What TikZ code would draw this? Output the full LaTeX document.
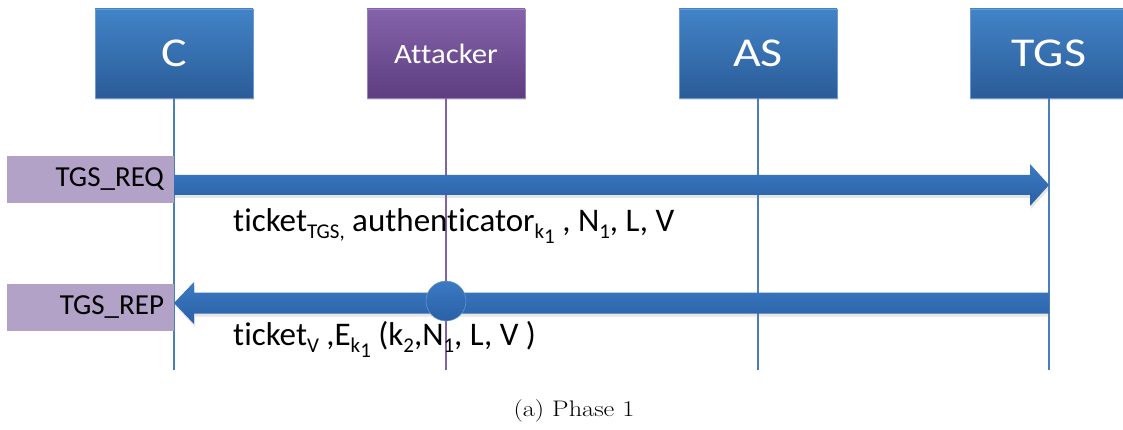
\documentclass[tikz,border=0pt]{standalone}
\usepackage{fontspec}
\usepackage{graphicx}
\usetikzlibrary{calc,shadows}
\newfontfamily\carl{Carlito}[Ligatures=NoCommon]
\definecolor{boxtop}{HTML}{4283C7}
\definecolor{boxbot}{HTML}{2B5C98}
\definecolor{boxedge}{HTML}{6A9BD2}
\definecolor{atktop}{HTML}{8563AB}
\definecolor{atkbot}{HTML}{5D3E80}
\definecolor{atkedge}{HTML}{9A80BC}
\definecolor{labfill}{HTML}{B2A2C8}
\definecolor{arrtop}{HTML}{3B7AC2}
\definecolor{arrbot}{HTML}{2A60A6}
\definecolor{lifeblue}{HTML}{4A7EBB}
\definecolor{lifepurple}{HTML}{8064A2}
\newcommand\wtxt[1]{\scalebox{1.17}[1]{#1}}
\newcommand\lsub[1]{\raisebox{-7pt}{\fontsize{21}{21}\selectfont #1}}
\newcommand\llsub[1]{\raisebox{-5pt}{#1}}
\tikzset{
  actor/.style={rectangle, minimum width=158pt, minimum height=89pt, inner sep=0pt,
    top color=boxtop, bottom color=boxbot, draw=boxedge, line width=0.6pt,
    text=white, font=\carl\fontsize{41}{41}\selectfont,
    drop shadow={shadow xshift=1pt, shadow yshift=-2pt, opacity=0.25}},
  attacker/.style={actor, top color=atktop, bottom color=atkbot, draw=atkedge,
    font=\carl\fontsize{28}{28}\selectfont},
  lab/.style={rectangle, fill=labfill, minimum width=167pt, minimum height=47pt,
    inner xsep=10pt, text width=147pt, align=right,
    font=\carl\fontsize{29}{29}\selectfont},
  life/.style={line width=1.4pt},
  msg/.style={top color=arrtop, bottom color=arrbot,
    drop shadow={shadow xshift=1pt, shadow yshift=-3pt, opacity=0.2}},
  msgtext/.style={anchor=base west, inner sep=0pt, font=\carl\fontsize{33}{33}\selectfont},
}
\begin{document}
\begin{tikzpicture}[x=1pt,y=-1pt]
\useasboundingbox (0,0) rectangle (1123,430);
\clip (0,0) rectangle (1123,430);
% actors
\node[actor] (C) at (174,53.5) {\wtxt{C}};
\node[attacker] (A) at (446,53.5) {\scalebox{1.1}[1]{Attacker}};
\node[actor] (AS) at (758,53.5) {\wtxt{AS}};
\node[actor] (TGS) at (1049,53.5) {\wtxt{TGS}};
% lifeline ends
\coordinate (Cb) at (174,370);
\coordinate (Ab) at (446,370);
\coordinate (ASb) at (758,370);
\coordinate (TGSb) at (1049,370);
\draw[life, lifeblue] (C.south) -- (Cb);
\draw[life, lifepurple] (A.south) -- (Ab);
\draw[life, lifeblue] (AS.south) -- (ASb);
\draw[life, lifeblue] (TGS.south) -- (TGSb);
% message labels
\node[lab] (req) at (90.5,179.5) {TGS\_REQ};
\node[lab] (rep) at (90.5,307.5) {TGS\_REP};
% arrow 1: C -> TGS
\coordinate (r1) at (174,185);
\coordinate (r2) at (1049,185);
\shade[msg] ($(r1)+(0,-10)$) -- ($(r2)+(-19,-10)$) -- ($(r2)+(-19,-21)$) -- (r2)
  -- ($(r2)+(-19,21)$) -- ($(r2)+(-19,10)$) -- ($(r1)+(0,10)$) -- cycle;
% arrow 2: TGS -> C
\coordinate (p1) at (1049,303);
\coordinate (p2) at (174,303);
\shade[msg] ($(p1)+(0,-10.5)$) -- ($(p2)+(20,-10.5)$) -- ($(p2)+(20,-21)$) -- (p2)
  -- ($(p2)+(20,21)$) -- ($(p2)+(20,10.5)$) -- ($(p1)+(0,10.5)$) -- cycle;
% attacker interception point
\node[circle, minimum size=40pt, inner sep=0pt, top color=arrtop, bottom color=arrbot,
  draw=boxedge, line width=0.5pt] (X) at (446,301) {};
% message texts
\node[msgtext] (m1) at (233,232) {ticket\lsub{TGS,} authenticator\lsub{k\llsub{1}} , N\lsub{1}, L, V};
\node[msgtext] (m2) at (233,345) {ticket\lsub{V} ,E\lsub{k\llsub{1}} (k\lsub{2},N\lsub{1}, L, V )};
% caption
\node[inner sep=0pt] (cap) at (574,411) {\fontsize{22.5}{26}\selectfont\scalebox{1.17}[1]{(a) Phase 1}};
\end{tikzpicture}
\end{document}
